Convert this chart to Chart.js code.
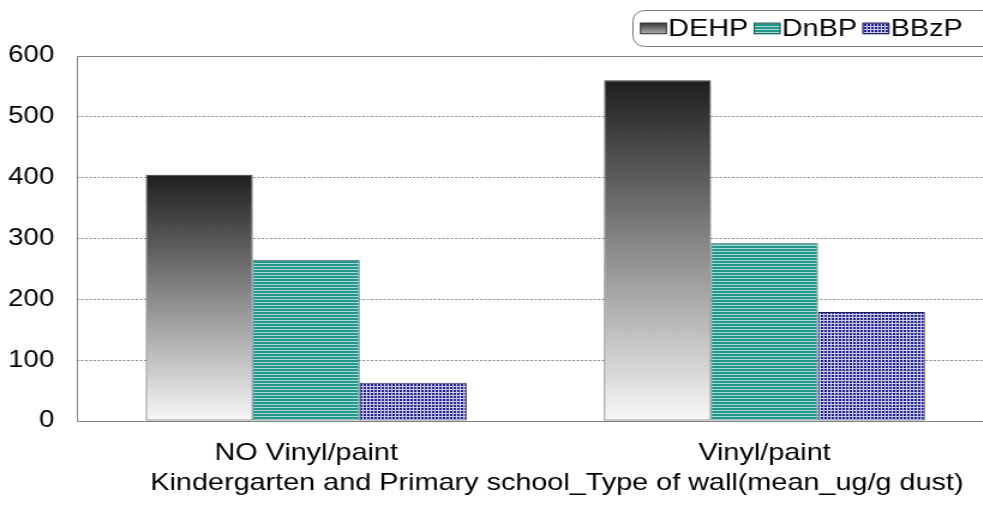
<!DOCTYPE html>
<html>
<head>
<meta charset="utf-8">
<script src="https://cdn.jsdelivr.net/npm/chart.js@4"></script>
<style>
  html, body { margin: 0; padding: 0; background: #fff; overflow: hidden; width: 983px; height: 508px; }
  /* the chart is laid out on a narrower canvas and widened horizontally */
  #c { display: block; transform: scaleX(1.2); transform-origin: 0 0; }
</style>
</head>
<body>
<canvas id="c" width="830" height="508"></canvas>
<script>
// ---- data ----
const categories = ['NO Vinyl/paint', 'Vinyl/paint'];
const seriesNames = ['DEHP', 'DnBP', 'BBzP'];
const dehpValues = [405, 560];
const dnbpValues = [265, 292];
const bbzpValues = [63, 179];
const yMin = 0;
const yMax = 600;
const yStep = 100;
const axisCaption = 'Kindergarten and Primary school_Type of wall(mean_ug/g dust)';

const FONT = '"Liberation Sans", Arial, Helvetica, sans-serif';

// ---- fills ----
function makeStripes() {
  const c = document.createElement('canvas');
  c.width = 4; c.height = 3;
  const g = c.getContext('2d');
  g.fillStyle = '#25968a';
  g.fillRect(0, 0, 4, 3);
  g.fillStyle = '#a6dbd3';
  g.fillRect(0, 2, 4, 1);
  return g.createPattern(c, 'repeat');
}
function makeCheck() {
  const c = document.createElement('canvas');
  c.width = 3; c.height = 3;
  const g = c.getContext('2d');
  g.fillStyle = '#24248a';
  g.fillRect(0, 0, 3, 3);
  g.fillStyle = '#c9c9ec';
  g.fillRect(2, 0, 1, 3);
  g.fillRect(0, 2, 3, 1);
  return g.createPattern(c, 'repeat');
}
const stripeFill = makeStripes();
const checkFill = makeCheck();

function greyRamp(ctx2d, top, bottom) {
  const gr = ctx2d.createLinearGradient(0, top, 0, bottom);
  gr.addColorStop(0, '#1e1e1e');
  gr.addColorStop(1, '#f8f8f8');
  return gr;
}

// each DEHP bar carries its own dark-to-light ramp
function dehpFill(context) {
  const chart = context.chart;
  if (!chart.chartArea || context.type !== 'data') return '#777';
  const ys = chart.scales.y;
  const top = ys.getPixelForValue(context.raw);
  const bottom = ys.getPixelForValue(0);
  return greyRamp(chart.ctx, top, bottom);
}

const swatchFills = [
  (g, x, y, w, h) => greyRamp(g, y - 2, y + h + 6),
  () => stripeFill,
  () => checkFill
];

// ---- plugins ----
const plotFrame = {
  id: 'plotFrame',
  beforeDatasetsDraw(chart) {
    const { ctx, chartArea: a } = chart;
    ctx.save();
    ctx.strokeStyle = '#808080';
    ctx.lineWidth = 1;
    const l = Math.round(a.left) + 0.5, t = Math.round(a.top) + 0.5, b = Math.round(a.bottom) + 0.5;
    ctx.beginPath();
    ctx.moveTo(a.right + 5, t); ctx.lineTo(l, t); ctx.lineTo(l, b); ctx.lineTo(a.right + 5, b);
    ctx.stroke();
    ctx.restore();
  }
};

const boxedLegend = {
  id: 'boxedLegend',
  afterDraw(chart) {
    const ctx = chart.ctx;
    ctx.save();
    ctx.beginPath();
    ctx.roundRect(527.5, 10.5, 330, 36, 10);
    ctx.strokeStyle = '#7a7a7a';
    ctx.lineWidth = 1;
    ctx.stroke();
    ctx.font = '24px ' + FONT;
    ctx.textBaseline = 'middle';
    ctx.textAlign = 'left';
    let x = 533.3;
    const sw = 22.5, sh = 11.5, sy = 22.7, ty = 29;
    chart.data.datasets.forEach((ds, i) => {
      ctx.fillStyle = swatchFills[i](ctx, x, sy, sw, sh);
      ctx.fillRect(x, sy, sw, sh);
      ctx.strokeStyle = ds.borderColor;
      ctx.strokeRect(x + 0.5, sy + 0.5, sw - 1, sh - 1);
      ctx.fillStyle = '#000';
      ctx.fillText(ds.label, x + sw + 1, ty);
      x += sw + 1 + ctx.measureText(ds.label).width + 4.5;
    });
    ctx.restore();
  }
};

const captionDraw = {
  id: 'captionDraw',
  afterDraw(chart) {
    const { ctx, chartArea: a } = chart;
    ctx.save();
    ctx.font = '24px ' + FONT;
    ctx.fillStyle = '#000';
    ctx.textAlign = 'center';
    ctx.textBaseline = 'middle';
    ctx.fillText(axisCaption, (a.left + a.right) / 2 + 18, 483);
    ctx.restore();
  }
};

// ---- chart ----
new Chart(document.getElementById('c'), {
  type: 'bar',
  data: {
    labels: categories,
    datasets: [
      { label: seriesNames[0], data: dehpValues, backgroundColor: dehpFill, borderColor: '#3a3a3a' },
      { label: seriesNames[1], data: dnbpValues, backgroundColor: stripeFill, borderColor: '#1d5e57' },
      { label: seriesNames[2], data: bbzpValues, backgroundColor: checkFill, borderColor: '#1a1a5a' }
    ]
  },
  options: {
    animation: false,
    responsive: false,
    devicePixelRatio: 1,
    layout: { padding: { top: 56, right: 2, left: 0, bottom: 0 } },
    datasets: {
      bar: { categoryPercentage: 0.7, barPercentage: 1.0, borderWidth: 1, borderSkipped: false }
    },
    plugins: {
      legend: { display: false },
      tooltip: { enabled: false }
    },
    scales: {
      x: {
        grid: { display: false },
        border: { display: false },
        ticks: { color: '#000', font: { family: FONT, size: 24 }, padding: 9.5 },
        afterFit(s) { s.height = 87; }
      },
      y: {
        min: yMin,
        max: yMax,
        ticks: { stepSize: yStep, color: '#000', font: { family: FONT, size: 23 }, padding: 19 },
        grid: {
          drawTicks: false,
          lineWidth: 1,
          color: (c) => (c.tick && (c.tick.value === yMin || c.tick.value === yMax)) ? 'rgba(0,0,0,0)' : '#8a8a8a'
        },
        border: { display: false, dash: [2, 1.5] },
        afterFit(s) { s.width = 64.2; }
      }
    }
  },
  plugins: [plotFrame, boxedLegend, captionDraw]
});
</script>
</body>
</html>
